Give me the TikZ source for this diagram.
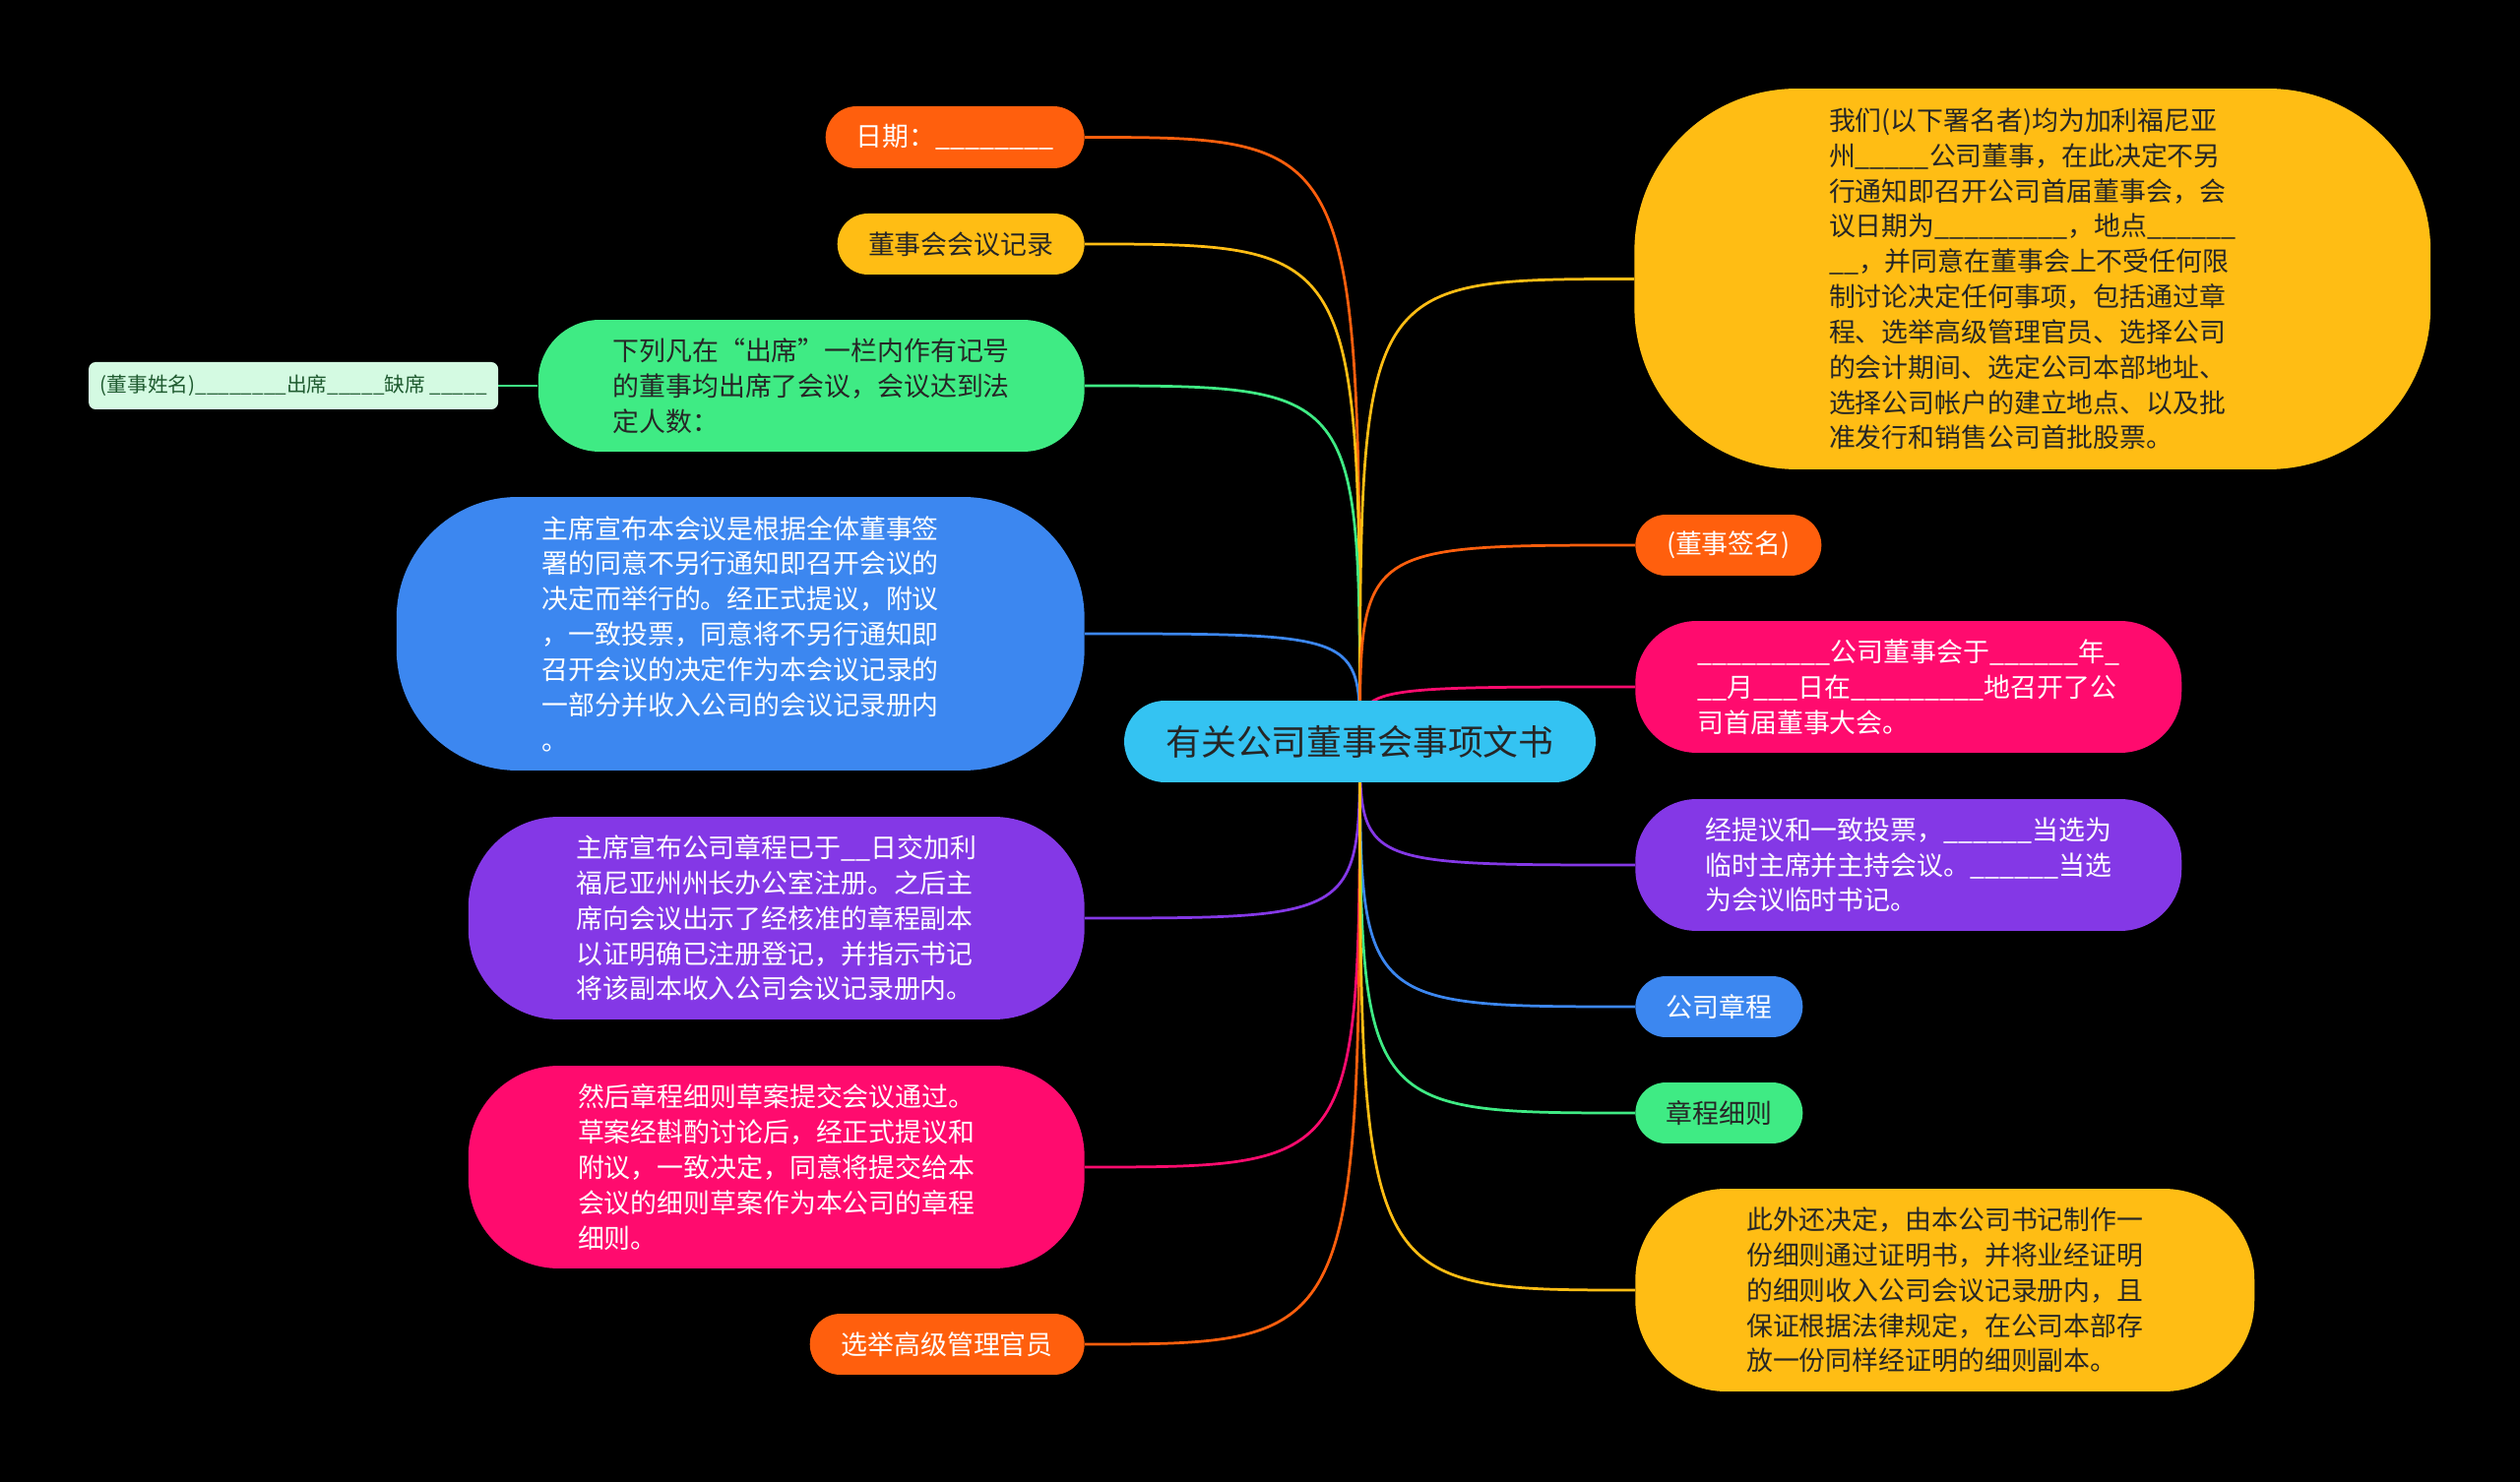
\documentclass[tikz,border=0pt]{standalone}
\usepackage{fontspec}
\setmainfont{Noto Sans CJK SC}
\usepackage{xcolor}
\usepackage{tikz}
\usetikzlibrary{positioning}
\definecolor{sky}{HTML}{34C3F2}
\definecolor{tangerine}{HTML}{FF5F0D}
\definecolor{gold}{HTML}{FFBD14}
\definecolor{mint}{HTML}{3FEB84}
\definecolor{pale}{HTML}{D4FAE2}
\definecolor{azure}{HTML}{3C87F0}
\definecolor{grape}{HTML}{8438E6}
\definecolor{rose}{HTML}{FF0B6E}
\definecolor{ink}{HTML}{262626}
\definecolor{moss}{HTML}{1F5B30}
\pgfdeclarelayer{backdrop}
\pgfdeclarelayer{wires}
\pgfsetlayers{backdrop,wires,main}
\ExplSyntaxOn
\cs_new:Npn \blanks #1 { \prg_replicate:nn {#1} { \_ } }
\ExplSyntaxOff

\begin{document}
\begin{tikzpicture}[x=0.02cm,y=-0.02cm,
  box/.style n args={4}{fill=#1,minimum width=#2,minimum height=#3,rounded corners=#4,
    inner sep=0pt,align=left,text=white,font=\fontsize{15.3pt}{20.4pt}\selectfont},
  link/.style={draw=#1,line width=0.055cm}]
\begin{pgfonlayer}{backdrop}
\fill[black] (0,0) rectangle (2560,1506);
\end{pgfonlayer}
\useasboundingbox (0,0) rectangle (2560,1506);

% centre
\node[box={sky}{9.58cm}{1.66cm}{0.83cm},text=ink,font=\fontsize{20.4pt}{24pt}\selectfont] (root) at (1381.5,753.5) {有关公司董事会事项文书};

% left branch
\node[box={tangerine}{5.26cm}{1.26cm}{0.63cm},anchor=east] (date) at (1102,139.5) {日期：\blanks{8}};
\node[box={gold}{5.02cm}{1.24cm}{0.62cm},anchor=east,text=ink] (record) at (1102,248) {董事会会议记录};
\node[box={mint}{11.1cm}{2.68cm}{1.25cm},anchor=east,text=ink] (present) at (1102,392) {下列凡在“出席”一栏内作有记号\\的董事均出席了会议，会议达到法\\定人数：};
\node[box={pale}{8.32cm}{0.96cm}{0.14cm},text=moss,font=\fontsize{11.8pt}{14pt}\selectfont,left=0.8cm of present] (names) {(董事姓名)\blanks{8}出席\blanks{5}缺席 \blanks{5}};
\node[box={azure}{13.98cm}{5.56cm}{2.46cm},anchor=east] (announce) at (1102,644) {主席宣布本会议是根据全体董事签\\署的同意不另行通知即召开会议的\\决定而举行的。经正式提议，附议\\，一致投票，同意将不另行通知即\\召开会议的决定作为本会议记录的\\一部分并收入公司的会议记录册内\\。};
\node[box={grape}{12.52cm}{4.12cm}{1.84cm},anchor=east] (charter) at (1102,933) {主席宣布公司章程已于\blanks{2}日交加利\\福尼亚州州长办公室注册。之后主\\席向会议出示了经核准的章程副本\\以证明确已注册登记，并指示书记\\将该副本收入公司会议记录册内。};
\node[box={rose}{12.52cm}{4.12cm}{1.84cm},anchor=east] (bylaws) at (1102,1186) {然后章程细则草案提交会议通过。\\草案经斟酌讨论后，经正式提议和\\附议，一致决定，同意将提交给本\\会议的细则草案作为本公司的章程\\细则。};
\node[box={tangerine}{5.58cm}{1.24cm}{0.62cm},anchor=east] (officers) at (1102,1366) {选举高级管理官员};

% right branch
\node[box={gold}{16.18cm}{7.74cm}{3.3cm},anchor=west,text=ink] (resolve) at (1660,283.5) {我们(以下署名者)均为加利福尼亚\\州\blanks{5}公司董事，在此决定不另\\行通知即召开公司首届董事会，会\\议日期为\blanks{9}，地点\blanks{6}\\\blanks{2}，并同意在董事会上不受任何限\\制讨论决定任何事项，包括通过章\\程、选举高级管理官员、选择公司\\的会计期间、选定公司本部地址、\\选择公司帐户的建立地点、以及批\\准发行和销售公司首批股票。};
\node[box={tangerine}{3.78cm}{1.24cm}{0.62cm},anchor=west] (sign) at (1661,554) {(董事签名)};
\node[box={rose}{11.1cm}{2.68cm}{1.25cm},anchor=west] (held) at (1661,698) {\blanks{9}公司董事会于\blanks{6}年\blanks{1}\\\blanks{2}月\blanks{3}日在\blanks{9}地召开了公\\司首届董事大会。};
\node[box={grape}{11.1cm}{2.68cm}{1.25cm},anchor=west] (chair) at (1661,879) {经提议和一致投票，\blanks{6}当选为\\临时主席并主持会议。\blanks{6}当选\\为会议临时书记。};
\node[box={azure}{3.4cm}{1.24cm}{0.62cm},anchor=west] (articles) at (1661,1023) {公司章程};
\node[box={mint}{3.4cm}{1.24cm}{0.62cm},anchor=west,text=ink] (rules) at (1661,1131) {章程细则};
\node[box={gold}{12.58cm}{4.12cm}{1.84cm},anchor=west,text=ink] (certify) at (1661,1311) {此外还决定，由本公司书记制作一\\份细则通过证明书，并将业经证明\\的细则收入公司会议记录册内，且\\保证根据法律规定，在公司本部存\\放一份同样经证明的细则副本。};

% connectors
\begin{pgfonlayer}{wires}
\foreach \n/\c in {date/tangerine,record/gold,present/mint,announce/azure,charter/grape,bylaws/rose,officers/tangerine}
  \draw[link=\c] (root.center) .. controls (root.center |- \n.east) .. (\n.east);
\foreach \n/\c in {resolve/gold,sign/tangerine,held/rose,chair/grape,articles/azure,rules/mint,certify/gold}
  \draw[link=\c] (root.center) .. controls (root.center |- \n.west) .. (\n.west);
\draw[link=mint] (present.west) -- (names.east);
\end{pgfonlayer}
\end{tikzpicture}
\end{document}
